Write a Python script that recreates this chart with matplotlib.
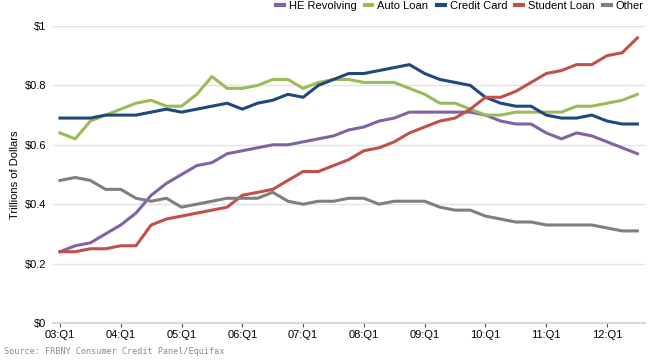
import matplotlib
matplotlib.use("Agg")
import matplotlib.pyplot as plt

plt.rcParams["font.family"] = ["Liberation Sans", "DejaVu Sans"]

# Quarterly balances, trillions of dollars, 03:Q1 .. 12:Q3
he_revolving = [0.24, 0.26, 0.27, 0.30, 0.33, 0.37, 0.43, 0.47, 0.50, 0.53,
                0.54, 0.57, 0.58, 0.59, 0.60, 0.60, 0.61, 0.62, 0.63, 0.65,
                0.66, 0.68, 0.69, 0.71, 0.71, 0.71, 0.71, 0.71, 0.70, 0.68,
                0.67, 0.67, 0.64, 0.62, 0.64, 0.63, 0.61, 0.59, 0.57]
auto_loan = [0.64, 0.62, 0.68, 0.70, 0.72, 0.74, 0.75, 0.73, 0.73, 0.77,
             0.83, 0.79, 0.79, 0.80, 0.82, 0.82, 0.79, 0.81, 0.82, 0.82,
             0.81, 0.81, 0.81, 0.79, 0.77, 0.74, 0.74, 0.72, 0.70, 0.70,
             0.71, 0.71, 0.71, 0.71, 0.73, 0.73, 0.74, 0.75, 0.77]
credit_card = [0.69, 0.69, 0.69, 0.70, 0.70, 0.70, 0.71, 0.72, 0.71, 0.72,
               0.73, 0.74, 0.72, 0.74, 0.75, 0.77, 0.76, 0.80, 0.82, 0.84,
               0.84, 0.85, 0.86, 0.87, 0.84, 0.82, 0.81, 0.80, 0.76, 0.74,
               0.73, 0.73, 0.70, 0.69, 0.69, 0.70, 0.68, 0.67, 0.67]
student_loan = [0.24, 0.24, 0.25, 0.25, 0.26, 0.26, 0.33, 0.35, 0.36, 0.37,
                0.38, 0.39, 0.43, 0.44, 0.45, 0.48, 0.51, 0.51, 0.53, 0.55,
                0.58, 0.59, 0.61, 0.64, 0.66, 0.68, 0.69, 0.72, 0.76, 0.76,
                0.78, 0.81, 0.84, 0.85, 0.87, 0.87, 0.90, 0.91, 0.96]
other = [0.48, 0.49, 0.48, 0.45, 0.45, 0.42, 0.41, 0.42, 0.39, 0.40,
         0.41, 0.42, 0.42, 0.42, 0.44, 0.41, 0.40, 0.41, 0.41, 0.42,
         0.42, 0.40, 0.41, 0.41, 0.41, 0.39, 0.38, 0.38, 0.36, 0.35,
         0.34, 0.34, 0.33, 0.33, 0.33, 0.33, 0.32, 0.31, 0.31]

year_labels = ["03:Q1", "04:Q1", "05:Q1", "06:Q1", "07:Q1",
               "08:Q1", "09:Q1", "10:Q1", "11:Q1", "12:Q1"]
y_ticks = [0, 0.2, 0.4, 0.6, 0.8, 1.0]
y_labels = ["$0", "$0.2", "$0.4", "$0.6", "$0.8", "$1"]

series = [
    ("HE Revolving", he_revolving, "#8064A2"),
    ("Auto Loan", auto_loan, "#9BBB59"),
    ("Credit Card", credit_card, "#1F497D"),
    ("Student Loan", student_loan, "#C0504D"),
    ("Other", other, "#7F7F7F"),
]

fig = plt.figure(figsize=(6.52, 3.6), dpi=100)
ax = fig.add_axes([53 / 652, 1 - 323 / 360, 592 / 652, 297 / 360])

x = list(range(len(he_revolving)))
for name, vals, col in series:
    ax.plot(x, vals, color=col, lw=2.2, label=name, solid_joinstyle="round")

ax.set_xlim(-0.46, 38.5)
ax.set_ylim(0, 1)
ax.set_xticks(range(0, len(x), 4))
ax.set_xticklabels(year_labels, fontsize=8)
ax.set_yticks(y_ticks)
ax.set_yticklabels(y_labels, fontsize=8)
ax.tick_params(axis="x", length=3, color="#555555", pad=2)
ax.tick_params(axis="y", length=0, pad=5)

ax.grid(axis="y", color="#E3E3E3", lw=1)
ax.set_axisbelow(True)
for s in ["top", "right", "left"]:
    ax.spines[s].set_visible(False)
ax.spines["bottom"].set_color("#D9D9D9")
ax.spines["bottom"].set_linewidth(1.5)

ax.set_ylabel("Trillions of Dollars", fontsize=8)
ax.yaxis.set_label_coords(-0.056, 0.5)

leg = fig.legend(loc="upper right", bbox_to_anchor=(1.003, 1.025), ncol=5,
                 frameon=False, fontsize=8, handlelength=0.7,
                 handletextpad=0.45, columnspacing=0.75)
for h in leg.get_lines():
    h.set_linewidth(3)

fig.text(4 / 652, 1 - 352 / 360, "Source: FRBNY Consumer Credit Panel/Equifax",
         fontsize=6.1, color="#8C8C8C", va="center", family="DejaVu Sans Mono")

fig.savefig("out.png", dpi=100)
